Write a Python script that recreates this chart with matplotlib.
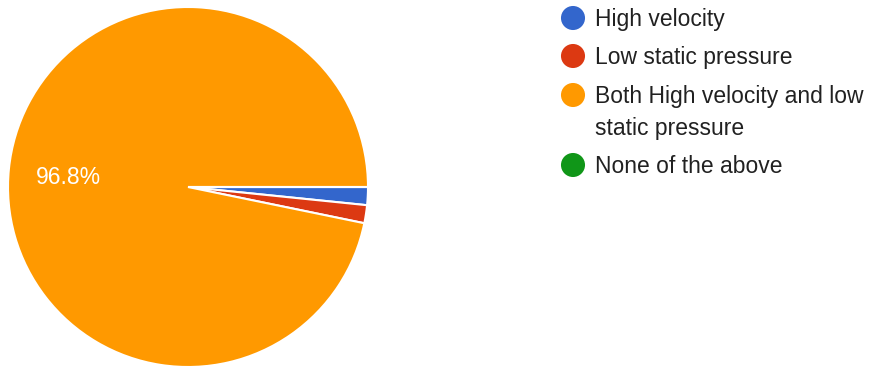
import matplotlib.pyplot as plt

plt.rcParams['font.family'] = ['Liberation Sans', 'DejaVu Sans']

labels = ['High velocity', 'Low static pressure',
          'Both High velocity and low\nstatic pressure', 'None of the above']
counts = [1, 1, 60, 0]
colors = ['#3366cc', '#dc3912', '#ff9900', '#109618']

W, H = 882, 367
FS = 16.5
fig = plt.figure(figsize=(W / 100, H / 100), dpi=100)

# pie area
ax = fig.add_axes([8 / W, 0 / H, 360 / W, 360 / H])


def pct_label(p):
    return f'{p:.1f}%' if p > 5 else ''


wedges, texts, autotexts = ax.pie(
    counts, colors=colors, startangle=0, counterclock=False,
    autopct=pct_label, pctdistance=0.67, radius=1.0,
    wedgeprops=dict(edgecolor='white', linewidth=1.5),
    textprops=dict(color='white', fontsize=FS))
for t in autotexts:
    t.set_verticalalignment('center_baseline')
ax.set_xlim(-1, 1)
ax.set_ylim(-1, 1)
ax.set_aspect('equal')
ax.axis('off')

# legend drawn by hand in pixel space
lg = fig.add_axes([0, 0, 1, 1])
lg.set_xlim(0, W)
lg.set_ylim(H, 0)
lg.axis('off')
rows = [18, 56, 95, 165]
for y, lab, c in zip(rows, labels, colors):
    lg.scatter([573], [y], s=300, color=c, edgecolors='none')
    for i, line in enumerate(lab.split('\n')):
        lg.text(595, y + 8.3 + 32 * i, line, fontsize=FS, color='#212121',
                va='baseline')

fig.savefig('out.png', dpi=100)
